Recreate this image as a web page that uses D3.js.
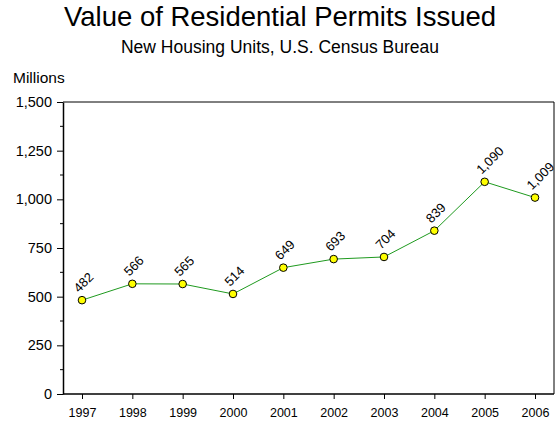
<!DOCTYPE html>
<html>
<head>
<meta charset="utf-8">
<script src="https://cdn.jsdelivr.net/npm/d3@7"></script>
<style>
  body { margin: 0; background: #fff; }
  text { font-family: "Liberation Sans", Arial, sans-serif; fill: #000; }
</style>
</head>
<body>
<svg id="chart" width="558" height="427"></svg>
<script>
const years = ["1997", "1998", "1999", "2000", "2001", "2002", "2003", "2004", "2005", "2006"];
const permitValues = [482, 566, 565, 514, 649, 693, 704, 839, 1090, 1009];
const yTicks = [0, 250, 500, 750, 1000, 1250, 1500];
const yMinorTicks = [125, 375, 625, 875, 1125, 1375];

const svg = d3.select("#chart");
const frame = { left: 63, right: 554, top: 102, bottom: 394 };

const x = d3.scalePoint().domain(years).range([82, 535]);
const y = d3.scaleLinear().domain([0, 1500]).range([frame.bottom, frame.top]);

// Titles
svg.append("text").attr("x", 280).attr("y", 26).attr("text-anchor", "middle")
  .style("font-size", "27.5px").text("Value of Residential Permits Issued");
svg.append("text").attr("x", 280).attr("y", 53).attr("text-anchor", "middle")
  .style("font-size", "17.5px").text("New Housing Units, U.S. Census Bureau");
svg.append("text").attr("x", 13).attr("y", 82.5)
  .style("font-size", "15.5px").text("Millions");

// Frame top and right
svg.append("path")
  .attr("d", `M${frame.left},${frame.top}H${frame.right}V${frame.bottom}`)
  .attr("fill", "none").attr("stroke", "#000").attr("stroke-width", 1);

// Y axis
const yAxis = svg.append("g").attr("transform", `translate(${frame.left},0)`)
  .call(d3.axisLeft(y).tickValues(yTicks).tickSize(6).tickPadding(5)
    .tickSizeOuter(0).tickFormat(d3.format(",")));
yAxis.select(".domain").attr("stroke-width", 1.5);
yAxis.selectAll(".tick text").style("font-size", "14.5px").attr("font-family", null);
yAxis.append("g").selectAll("line").data(yMinorTicks).join("line")
  .attr("x1", -3).attr("x2", 0).attr("y1", d => y(d)).attr("y2", d => y(d))
  .attr("stroke", "#000");

// X axis
const xAxis = svg.append("g").attr("transform", `translate(0,${frame.bottom})`)
  .call(d3.axisBottom(x).tickSize(5).tickPadding(9).tickSizeOuter(0));
xAxis.select(".domain").attr("d", `M${frame.left},0H${frame.right}`).attr("stroke-width", 1.5);
xAxis.selectAll(".tick text").style("font-size", "12.5px").attr("font-family", null);

// Line
const data = years.map((yr, i) => ({ year: yr, value: permitValues[i] }));
svg.append("path").datum(data)
  .attr("d", d3.line().x(d => x(d.year)).y(d => y(d.value)))
  .attr("fill", "none").attr("stroke", "#1f9a1f").attr("stroke-width", 1);

// Markers
svg.append("g").selectAll("circle").data(data).join("circle")
  .attr("cx", d => x(d.year)).attr("cy", d => y(d.value)).attr("r", 3.8)
  .attr("fill", "#ffff00").attr("stroke", "#000").attr("stroke-width", 1);

// Value labels
svg.append("g").selectAll("text").data(data).join("text")
  .attr("transform", d => `translate(${x(d.year) - 3},${y(d.value) - 7}) rotate(-45)`)
  .style("font-size", "13px")
  .text(d => d3.format(",")(d.value));
</script>
</body>
</html>
